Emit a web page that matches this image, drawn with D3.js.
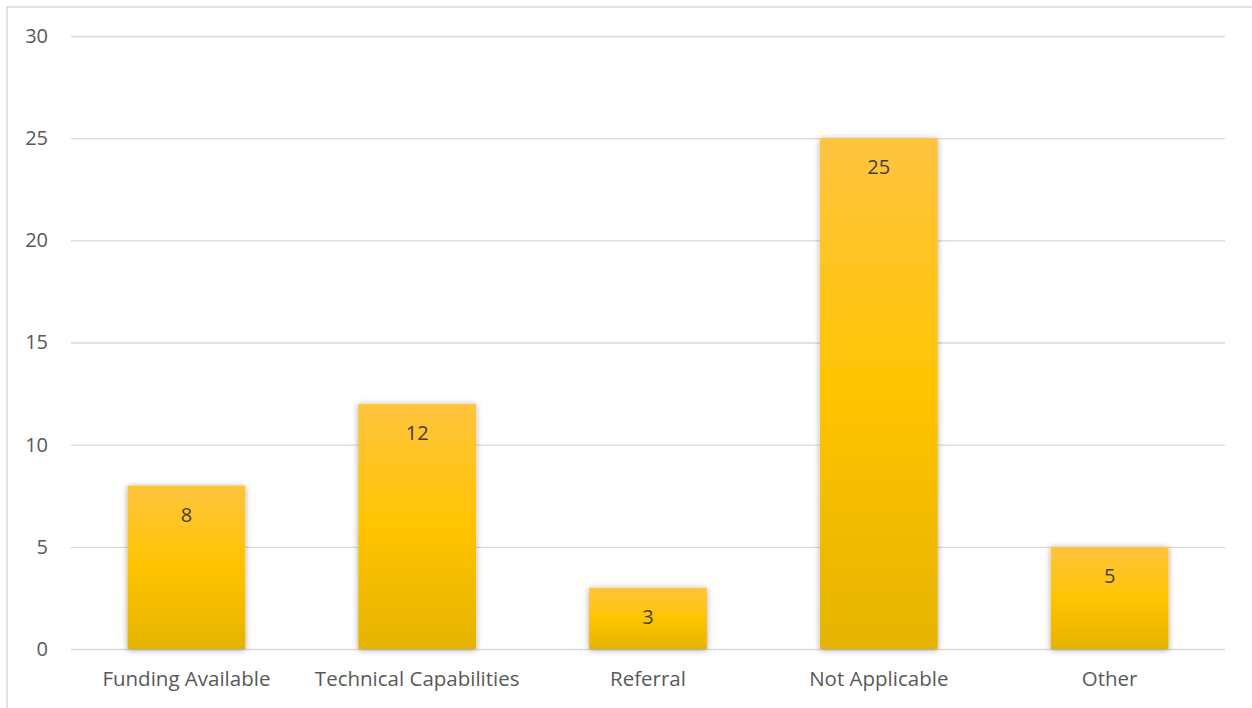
<!DOCTYPE html>
<head>
    <meta charset="utf-8">
    <style>
        body {
            margin: 0;
            background: #fff;
        }
        svg text { font-family: "Open Sans", "Liberation Sans", sans-serif; }
        .tick text { fill: #595959; font-size: 20px; }
        .xaxis .tick text { font-size: 20.5px; }
        .grid line { stroke: #d9d9d9; stroke-width: 1.3; }
        .label { fill: #404040; font-size: 20px; }
    </style>
</head>
<body>
    <svg id="chart" width="1252" height="708"></svg>

    <script src="https://d3js.org/d3.v7.min.js"></script>
    <script>
        var categories = ["Funding Available", "Technical Capabilities", "Referral", "Not Applicable", "Other"];
        var values = [8, 12, 3, 25, 5];
        var yTicks = [0, 5, 10, 15, 20, 25, 30];

        var svg = d3.select("#chart");
        var W = 1252, H = 708;
        var margin = { top: 36, left: 71, right: 27, bottom: 59 };

        // chart frame (only top and left edges visible)
        svg.append("path")
            .attr("d", "M7,708 V7 H1252")
            .attr("fill", "none")
            .attr("stroke", "#d9d9d9")
            .attr("stroke-width", 1.5);

        var x = d3.scaleBand()
            .domain(categories)
            .range([margin.left, W - margin.right])
            .paddingInner(0.49)
            .paddingOuter(0.245);

        var y = d3.scaleLinear()
            .domain([0, 30])
            .range([H - margin.bottom, margin.top]);

        var defs = svg.append("defs");
        var grad = defs.append("linearGradient")
            .attr("id", "barGrad")
            .attr("x1", 0).attr("y1", 0).attr("x2", 0).attr("y2", 1);
        grad.append("stop").attr("offset", "0%").attr("stop-color", "#ffc43f");
        grad.append("stop").attr("offset", "50%").attr("stop-color", "#ffc400");
        grad.append("stop").attr("offset", "100%").attr("stop-color", "#e5b300");

        var shadow = defs.append("filter")
            .attr("id", "glow")
            .attr("x", "-20%").attr("y", "-20%").attr("width", "140%").attr("height", "140%");
        shadow.append("feDropShadow")
            .attr("dx", 0).attr("dy", 1)
            .attr("stdDeviation", 3)
            .attr("flood-color", "#000")
            .attr("flood-opacity", 0.35);

        // gridlines
        svg.append("g")
            .attr("class", "grid")
            .attr("transform", "translate(" + margin.left + ",0)")
            .call(d3.axisLeft(y).tickValues(yTicks).tickSize(-(W - margin.left - margin.right)).tickFormat(""))
            .call(g => g.select(".domain").remove());

        // y tick labels
        svg.append("g")
            .attr("transform", "translate(" + margin.left + ",0)")
            .call(d3.axisLeft(y).tickValues(yTicks).tickSize(0).tickPadding(23))
            .call(g => g.select(".domain").remove());

        // bars
        svg.selectAll(".bar")
            .data(values)
            .join("rect")
            .attr("class", "bar")
            .attr("x", (d, i) => x(categories[i]))
            .attr("y", d => y(d))
            .attr("width", x.bandwidth())
            .attr("height", d => y(0) - y(d))
            .attr("fill", "url(#barGrad)")
            .attr("filter", "url(#glow)");

        // value labels
        svg.selectAll(".label")
            .data(values)
            .join("text")
            .attr("class", "label")
            .attr("x", (d, i) => x(categories[i]) + x.bandwidth() / 2)
            .attr("y", d => y(d) + 36)
            .attr("text-anchor", "middle")
            .text(d => d);

        // x axis labels
        svg.append("g")
            .attr("class", "xaxis")
            .attr("transform", "translate(0," + (H - margin.bottom) + ")")
            .call(d3.axisBottom(x).tickSize(0).tickPadding(22))
            .call(g => g.select(".domain").remove());
    </script>
</body>
